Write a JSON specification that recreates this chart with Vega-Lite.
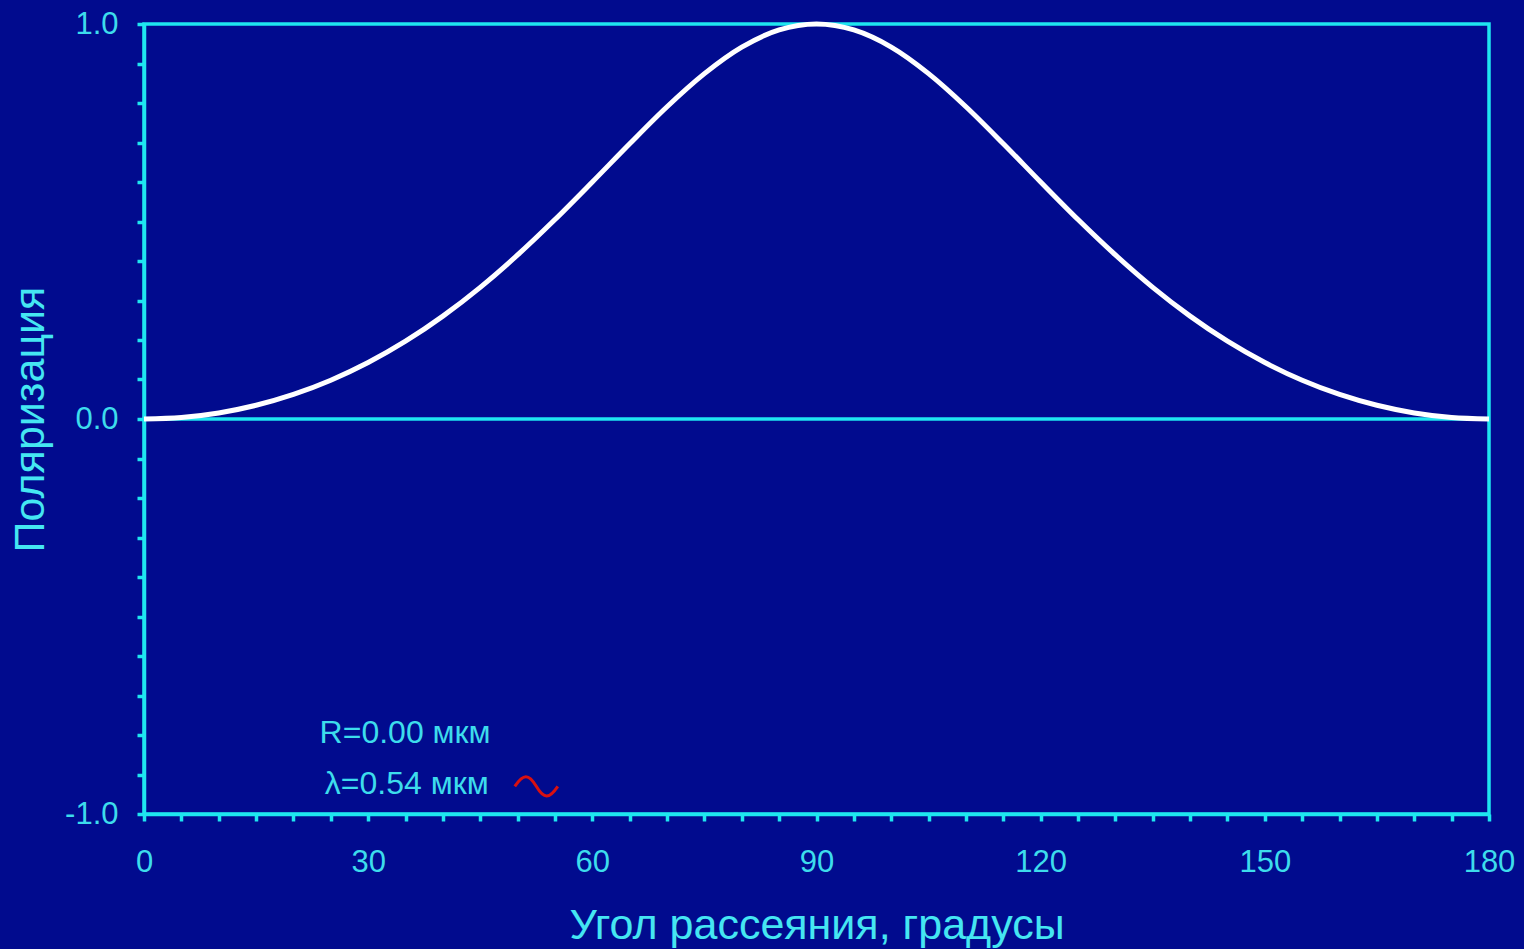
{
  "$schema": "https://vega.github.io/schema/vega-lite/v6.json",
  "width": 1345,
  "height": 790,
  "autosize": {"type": "none"},
  "padding": {"left": 144, "top": 24, "right": 35, "bottom": 135},
  "background": "#010b8e",
  "config": {
    "view": {"stroke": "#1ee6f0", "strokeWidth": 3.5, "fill": null},
    "font": "Liberation Sans",
    "axis": {
      "domainColor": "#1ee6f0",
      "domainWidth": 3.5,
      "tickColor": "#1ee6f0",
      "tickWidth": 3.5,
      "grid": false,
      "labelFont": "Liberation Sans",
      "labelColor": "#3ddcec",
      "labelFontSize": 31,
      "labelFlush": false,
      "titleFont": "Liberation Sans",
      "titleColor": "#45e6f2",
      "titleFontSize": 43,
      "titleFontWeight": "normal",
      "labelOverlap": false
    }
  },
  "datasets": {
    "curve": [
      {"angle": 0, "p": 0},
      {"angle": 5, "p": 0.0038},
      {"angle": 10, "p": 0.0153},
      {"angle": 15, "p": 0.0347},
      {"angle": 20, "p": 0.0621},
      {"angle": 25, "p": 0.0981},
      {"angle": 30, "p": 0.1429},
      {"angle": 35, "p": 0.1969},
      {"angle": 40, "p": 0.2604},
      {"angle": 45, "p": 0.3333},
      {"angle": 50, "p": 0.4153},
      {"angle": 55, "p": 0.5049},
      {"angle": 60, "p": 0.6},
      {"angle": 65, "p": 0.6969},
      {"angle": 70, "p": 0.7906},
      {"angle": 75, "p": 0.8744},
      {"angle": 80, "p": 0.9415},
      {"angle": 85, "p": 0.9849},
      {"angle": 90, "p": 1},
      {"angle": 95, "p": 0.9849},
      {"angle": 100, "p": 0.9415},
      {"angle": 105, "p": 0.8744},
      {"angle": 110, "p": 0.7906},
      {"angle": 115, "p": 0.6969},
      {"angle": 120, "p": 0.6},
      {"angle": 125, "p": 0.5049},
      {"angle": 130, "p": 0.4153},
      {"angle": 135, "p": 0.3333},
      {"angle": 140, "p": 0.2604},
      {"angle": 145, "p": 0.1969},
      {"angle": 150, "p": 0.1429},
      {"angle": 155, "p": 0.0981},
      {"angle": 160, "p": 0.0621},
      {"angle": 165, "p": 0.0347},
      {"angle": 170, "p": 0.0153},
      {"angle": 175, "p": 0.0038},
      {"angle": 180, "p": 0}
    ],
    "zero": [{"p": 0}],
    "notes": [
      {"angle": 23.5, "p": -0.795, "label": "R=0.00 мкм"},
      {"angle": 24.2, "p": -0.924, "label": "λ=0.54 мкм"}
    ],
    "wave": [{"angle": 52.5, "p": -0.93}]
  },
  "encoding": {
    "x": {
      "field": "angle",
      "type": "quantitative",
      "scale": {"domain": [0, 180], "nice": false, "zero": false},
      "axis": {
        "title": "Угол рассеяния, градусы",
        "values": [0,5,10,15,20,25,30,35,40,45,50,55,60,65,70,75,80,85,90,95,100,105,110,115,120,125,130,135,140,145,150,155,160,165,170,175,180],
        "labelExpr": "datum.value % 30 == 0 ? datum.label : ''",
        "tickSize": 7,
        "labelPadding": 26,
        "titlePadding": 27
      }
    },
    "y": {
      "field": "p",
      "type": "quantitative",
      "scale": {"domain": [-1, 1], "nice": false, "zero": false},
      "axis": {
        "title": "Поляризация",
        "values": [-1,-0.9,-0.8,-0.7,-0.6,-0.5,-0.4,-0.3,-0.2,-0.1,0,0.1,0.2,0.3,0.4,0.5,0.6,0.7,0.8,0.9,1],
        "labelExpr": "datum.value == 1 ? '1.0' : datum.value == 0 ? '0.0' : datum.value == -1 ? '-1.0' : ''",
        "tickSize": 7,
        "labelPadding": 19,
        "titlePadding": 12
      }
    }
  },
  "layer": [
    {
      "data": {"name": "zero"},
      "mark": {"type": "rule", "color": "#1ee6f0", "strokeWidth": 3.5},
      "encoding": {"y": {"field": "p", "type": "quantitative"}, "x": null}
    },
    {
      "data": {"name": "curve"},
      "mark": {"type": "line", "color": "#ffffff", "strokeWidth": 5, "interpolate": "monotone"}
    },
    {
      "data": {"name": "notes"},
      "mark": {"type": "text", "align": "left", "baseline": "middle", "fontSize": 32, "color": "#3ddcec", "font": "Liberation Sans"},
      "encoding": {"text": {"field": "label"}}
    },
    {
      "data": {"name": "wave"},
      "mark": {
        "type": "point",
        "shape": "M-1,0 C-0.6,-0.6 -0.35,-0.6 0,0 C0.35,0.6 0.6,0.6 1,0",
        "filled": false,
        "size": 1849,
        "stroke": "#d81010",
        "strokeWidth": 3,
        "opacity": 1
      }
    }
  ]
}
